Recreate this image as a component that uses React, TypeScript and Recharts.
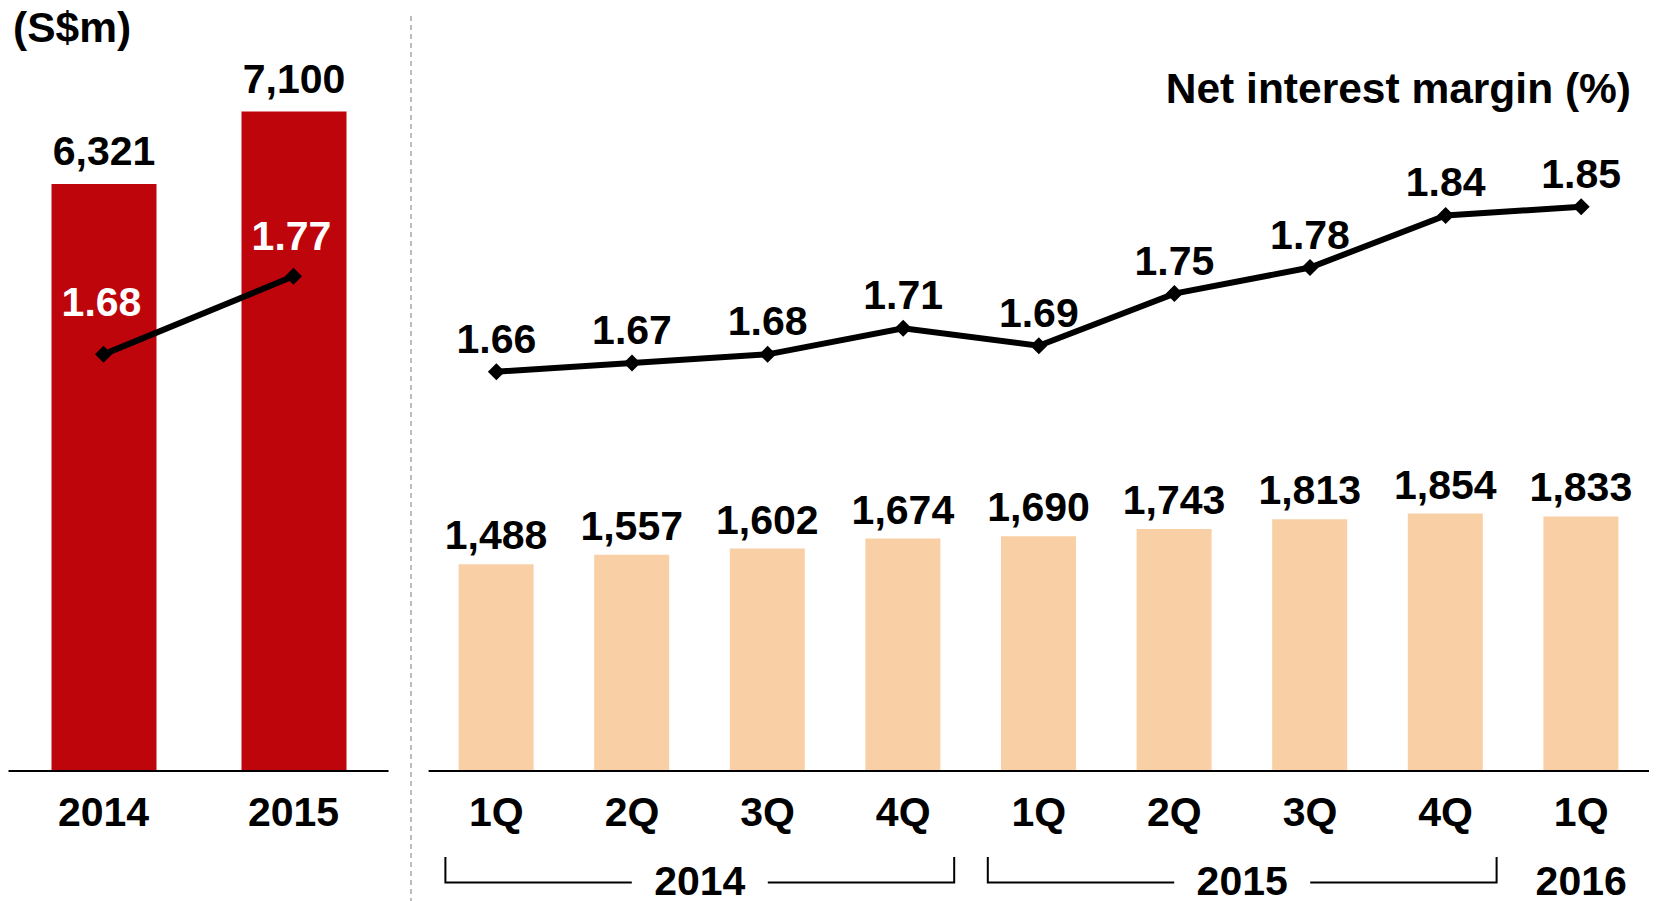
import { Bar, ComposedChart, LabelList, Line, XAxis, YAxis } from 'recharts'

const annualYears = ['2014', '2015']
const annualIncome = [6321, 7100]
const annualNim = [1.68, 1.77]

const quarters = ['1Q', '2Q', '3Q', '4Q', '1Q', '2Q', '3Q', '4Q', '1Q']
const quarterYears = ['2014', '2014', '2014', '2014', '2015', '2015', '2015', '2015', '2016']
const quarterIncome = [1488, 1557, 1602, 1674, 1690, 1743, 1813, 1854, 1833]
const quarterNim = [1.66, 1.67, 1.68, 1.71, 1.69, 1.75, 1.78, 1.84, 1.85]

const annualData = annualYears.map((year, i) => ({
  label: year,
  income: annualIncome[i],
  nim: annualNim[i],
}))

const quarterData = quarters.map((q, i) => ({
  label: q,
  year: quarterYears[i],
  income: quarterIncome[i],
  nim: quarterNim[i],
}))

const FONT = "'Liberation Sans', Arial, sans-serif"
const FONT_SIZE = 41
const CHART_H = 901
const AXIS_H = 130
const TOP = 28
const NIM_DOMAIN: [number, number] = [1.2, 2.056]

// label gap above each annual NIM point (white labels sit inside the red bars)
const ANNUAL_NIM_LABEL_GAP = [38, 26]

const RIGHT_W = 1246
const RIGHT_MARGIN = { top: TOP, right: 7, bottom: 0, left: 18.6 }
const QUARTER_STEP = (RIGHT_W - RIGHT_MARGIN.left - RIGHT_MARGIN.right) / quarters.length

function formatThousands(value: unknown) {
  const n = Number(value)
  return Number.isFinite(n) ? n.toLocaleString('en-US') : ''
}

function formatNim(value: unknown) {
  const n = Number(value)
  return Number.isFinite(n) ? n.toFixed(2) : ''
}

function Diamond(props: any) {
  const { cx, cy, index } = props
  if (cx == null || cy == null) return null
  const r = 8.5
  return (
    <path
      key={`d-${index}`}
      d={`M${cx},${cy - r}L${cx + r},${cy}L${cx},${cy + r}L${cx - r},${cy}Z`}
      fill="#000"
    />
  )
}

function AnnualNimLabel(props: any) {
  const { x, y, value, index } = props
  if (x == null || y == null) return null
  return (
    <text
      x={x - 2}
      y={y - (ANNUAL_NIM_LABEL_GAP[index] ?? 32)}
      textAnchor="middle"
      fontFamily={FONT}
      fontWeight={700}
      fontSize={FONT_SIZE}
      fill="#fff"
    >
      {formatNim(value)}
    </text>
  )
}

function YearTick(props: any) {
  const { x, y, payload } = props
  return (
    <text x={x} y={y + 55} textAnchor="middle" fontFamily={FONT} fontWeight={700} fontSize={FONT_SIZE} fill="#000">
      {payload.value}
    </text>
  )
}

function QuarterTick(props: any) {
  const { x, y, payload, index } = props
  const year = quarterYears[index]
  const isLast = index === quarterYears.length - 1 || quarterYears[index + 1] !== year
  let group = null
  if (isLast) {
    const count = quarterYears.filter((v) => v === year).length
    const firstX = x - (count - 1) * QUARTER_STEP
    const mid = (firstX + x) / 2
    const yearText = (
      <text x={mid} y={y + 124} textAnchor="middle" fontFamily={FONT} fontWeight={700} fontSize={FONT_SIZE} fill="#000">
        {year}
      </text>
    )
    if (count > 1) {
      const left = firstX - 51
      const right = x + 51
      const gap = 68
      const lineY = y + 111.5
      group = (
        <g>
          <path
            d={`M${left},${y + 86}L${left},${lineY}L${mid - gap},${lineY}M${mid + gap},${lineY}L${right},${lineY}L${right},${y + 86}`}
            stroke="#000"
            strokeWidth={2}
            fill="none"
          />
          {yearText}
        </g>
      )
    } else {
      group = yearText
    }
  }
  return (
    <g>
      <text x={x} y={y + 55} textAnchor="middle" fontFamily={FONT} fontWeight={700} fontSize={FONT_SIZE} fill="#000">
        {payload.value}
      </text>
      {group}
    </g>
  )
}

export default function App() {
  return (
    <div style={{ position: 'absolute', left: 0, top: 0, width: 1656, height: 901, background: '#fff', overflow: 'hidden' }}>
      <div style={{ position: 'absolute', left: 0, top: 0 }}>
        <ComposedChart
          width={400}
          height={CHART_H}
          data={annualData}
          margin={{ top: TOP, right: 11.5, bottom: 0, left: 8.5 }}
        >
          <XAxis
            dataKey="label"
            height={AXIS_H}
            tickLine={false}
            tickSize={0}
            tickMargin={0}
            axisLine={{ stroke: '#000', strokeWidth: 2 }}
            tick={<YearTick />}
            interval={0}
          />
          <YAxis yAxisId="amt" hide domain={[0, 8000]} />
          <YAxis yAxisId="nim" hide domain={NIM_DOMAIN} />
          <Bar yAxisId="amt" dataKey="income" fill="#BE050C" barSize={105} isAnimationActive={false}>
            <LabelList
              dataKey="income"
              position="top"
              offset={19}
              fill="#000"
              fontSize={FONT_SIZE}
              fontWeight={700}
              fontFamily={FONT}
              formatter={formatThousands}
            />
          </Bar>
          <Line
            yAxisId="nim"
            dataKey="nim"
            stroke="#000"
            strokeWidth={6}
            dot={<Diamond />}
            activeDot={false}
            isAnimationActive={false}
          >
            <LabelList dataKey="nim" content={<AnnualNimLabel />} />
          </Line>
        </ComposedChart>
      </div>

      <div style={{ position: 'absolute', left: 410, top: 0 }}>
        <ComposedChart width={RIGHT_W} height={CHART_H} data={quarterData} margin={RIGHT_MARGIN}>
          <XAxis
            dataKey="label"
            height={AXIS_H}
            tickLine={false}
            tickSize={0}
            tickMargin={0}
            axisLine={{ stroke: '#000', strokeWidth: 2 }}
            tick={<QuarterTick />}
            interval={0}
          />
          <YAxis yAxisId="amt" hide domain={[0, 5350]} />
          <YAxis yAxisId="nim" hide domain={NIM_DOMAIN} />
          <Bar yAxisId="amt" dataKey="income" fill="#F9CFA6" barSize={75} isAnimationActive={false}>
            <LabelList
              dataKey="income"
              position="top"
              offset={15}
              fill="#000"
              fontSize={FONT_SIZE}
              fontWeight={700}
              fontFamily={FONT}
              formatter={formatThousands}
            />
          </Bar>
          <Line
            yAxisId="nim"
            dataKey="nim"
            stroke="#000"
            strokeWidth={6}
            dot={<Diamond />}
            activeDot={false}
            isAnimationActive={false}
          >
            <LabelList
              dataKey="nim"
              position="top"
              offset={19}
              fill="#000"
              fontSize={FONT_SIZE}
              fontWeight={700}
              fontFamily={FONT}
              formatter={formatNim}
            />
          </Line>
        </ComposedChart>
      </div>

      <svg width={1656} height={901} style={{ position: 'absolute', left: 0, top: 0, pointerEvents: 'none' }}>
        <line x1={411} y1={16} x2={411} y2={901} stroke="#A6A6A6" strokeWidth={1.5} strokeDasharray="5 4" />
        <text x={13} y={42} fontFamily={FONT} fontWeight={700} fontSize={42.5} fill="#000">
          (S$m)
        </text>
        <text x={1631} y={103} textAnchor="end" fontFamily={FONT} fontWeight={700} fontSize={42.5} fill="#000">
          Net interest margin (%)
        </text>
      </svg>
    </div>
  )
}
